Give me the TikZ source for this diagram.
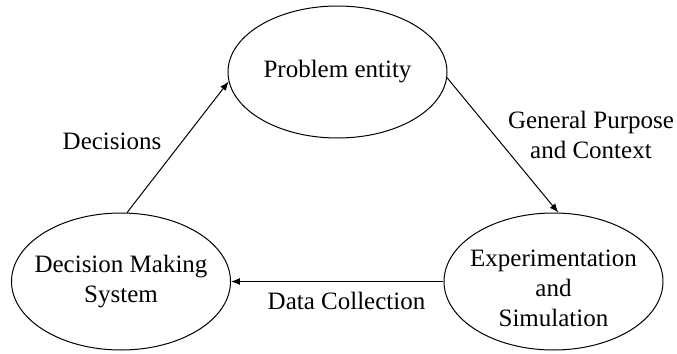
\documentclass[tikz,border=0pt]{standalone}
\usepackage{fontspec}
\setmainfont{Liberation Serif}
\usetikzlibrary{shapes.geometric,arrows.meta}
\newcommand\czl[1]{\makebox[0pt]{#1}}
\begin{document}
\begin{tikzpicture}[x=0.5pt,y=-0.5pt,
  every node/.style={font=\fontsize{12.5}{15}\selectfont},
  ell/.style={draw,ellipse,line width=0.5pt,inner sep=0pt,minimum width=109.5pt,minimum height=68.5pt,align=center},
  lab/.style={align=center,inner sep=0pt},
  arr/.style={line width=0.5pt,-{Latex[length=4.5pt,width=3.5pt]}}]
\useasboundingbox[fill=white] (0,0) rectangle (677,354);
\node[ell,minimum height=66pt] (pe) at (337.5,72) {\czl{Problem entity}};
\node[ell] (dm) at (121,281.5) {\czl{Decision Making}\\\czl{System}};
\node[ell] (es) at (553.5,281.5) {\rule{0pt}{15.5pt}\czl{Experimentation}\\\czl{and}\\\czl{Simulation}};
\draw[arr] (dm.85) -- (pe.185);
\draw[arr] (pe.-3) -- (es.86);
\draw[arr] (es.west) -- (dm.east);
\node[lab] (ld) at (112,141.5) {Decisions};
\node[lab] (lg) at (591,134.5) {General Purpose\\and Context};
\node[lab] (lc) at (346.5,301) {Data Collection};
\end{tikzpicture}
\end{document}
